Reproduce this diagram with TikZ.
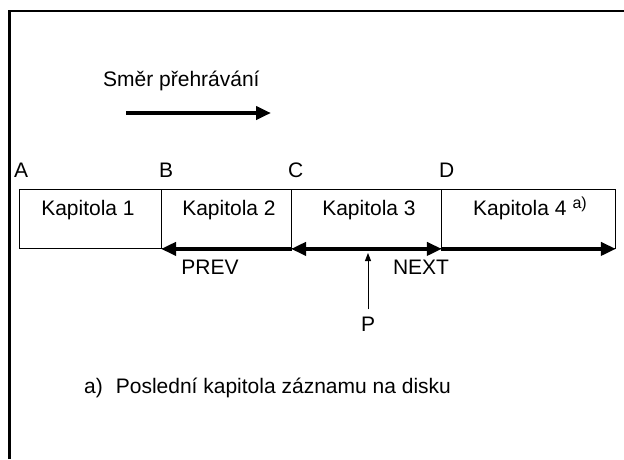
\documentclass[tikz,border=0pt]{standalone}
\usepackage{fontspec}
\setmainfont{Liberation Sans}
\usetikzlibrary{arrows.meta}
\begin{document}
\begin{tikzpicture}[x=1pt,y=-1pt,
  every node/.style={font=\fontsize{21}{25}\selectfont, inner sep=0pt},
  chap/.style={draw, line width=0.9pt, minimum height=59pt, anchor=north west},
  lbl/.style={anchor=base},
  lblw/.style={anchor=base west},
  bigarrow/.style={line width=4.5pt, -{Triangle[length=15pt,width=13pt]}},
  bigarrowboth/.style={line width=4.5pt, {Triangle[length=15pt,width=13pt]}-{Triangle[length=15pt,width=13pt]}},
  bigarrowleft/.style={line width=4.5pt, {Triangle[length=15pt,width=13pt]}-},
  thinarrow/.style={line width=0.9pt, -{Triangle[length=8pt,width=6pt]}},
  frameline/.style={line width=2.5pt}]
\useasboundingbox (0,0) rectangle (624,459);
% frame
\coordinate (fbl) at (9.5,459);
\coordinate (ftl) at (9.5,11);
\coordinate (ftr) at (624,11);
\draw[frameline] (fbl) -- (ftl) -- (ftr);
% direction
\node[lblw] (dir) at (103,86) {Směr přehrávání};
\coordinate (d1) at (126,113);
\coordinate (d2) at (271,113);
\draw[bigarrow] (d1) -- (d2);
% point labels
\node[lblw] (A) at (14,177) {A};
\node[lblw] (B) at (159,177) {B};
\node[lblw] (C) at (288,177) {C};
\node[lblw] (D) at (439,177) {D};
% chapters
\node[chap, minimum width=142pt] (k1) at (19,189) {};
\node[chap, minimum width=130pt] (k2) at (161,189) {};
\node[chap, minimum width=150pt] (k3) at (291,189) {};
\node[chap, minimum width=174pt] (k4) at (441,189) {};
\node[lbl] (t1) at (88,215) {Kapitola 1};
\node[lbl] (t2) at (229,215) {Kapitola 2};
\node[lbl] (t3) at (369,215) {Kapitola 3};
\node[lbl] (t4) at (530,215) {Kapitola 4\hspace{6pt}\raisebox{7pt}{\fontsize{16}{18}\selectfont a)}};
% arrows
\draw[bigarrowleft] (k2.south west) -- (k2.south east);
\draw[bigarrowboth] (k3.south west) -- (k3.south east);
\draw[bigarrow] (k4.south west) -- (k4.south east);
\node[lbl] (prev) at (210,274) {PREV};
\node[lbl] (next) at (421,274) {NEXT};
% P
\node[lbl, inner sep=7pt] (P) at (368,331) {P};
\coordinate (ptip) at (368,253);
\draw[thinarrow] (P.north) -- (ptip);
% footnote
\node[lblw] (fn) at (84,393) {a)\hspace{13pt}Poslední kapitola záznamu na disku};
\end{tikzpicture}
\end{document}
